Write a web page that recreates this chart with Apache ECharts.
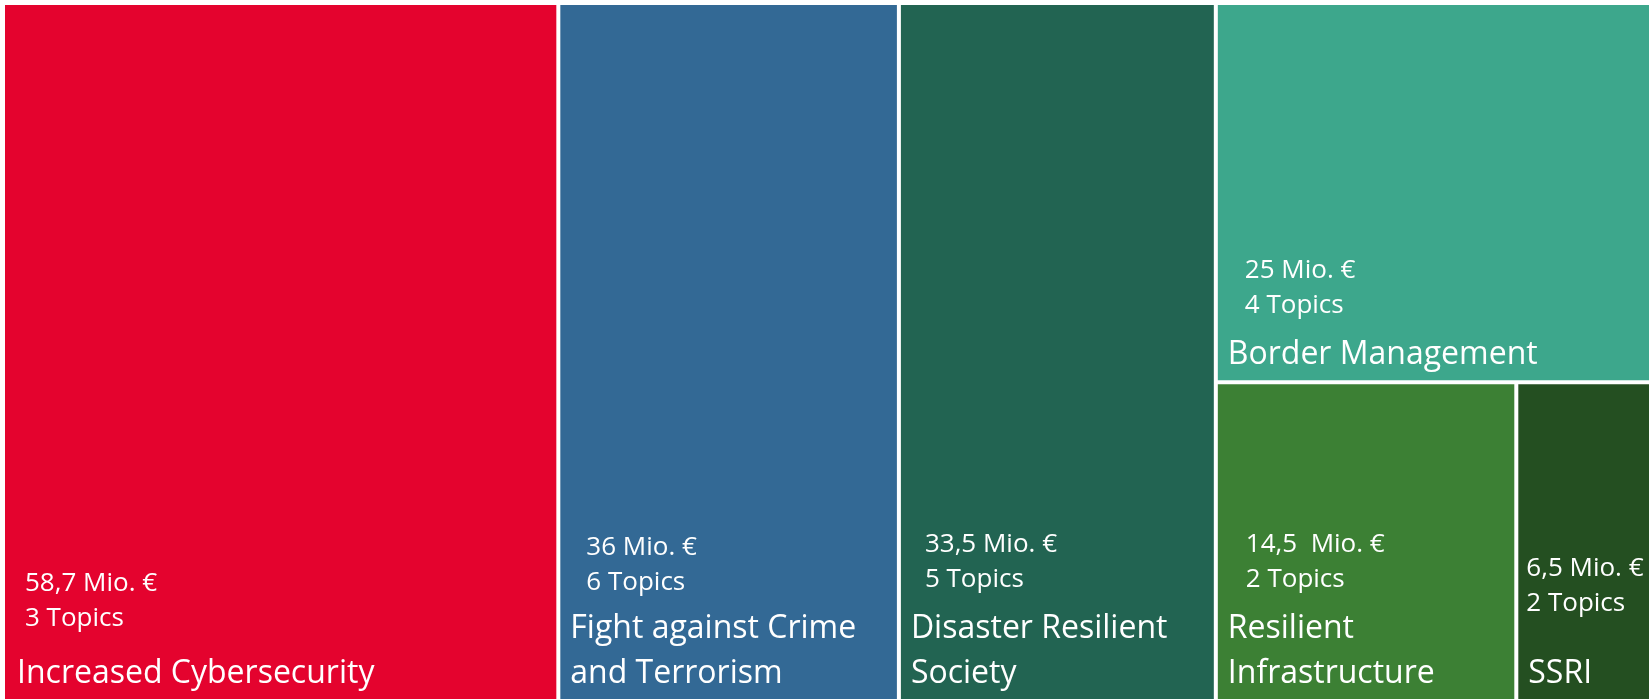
<!DOCTYPE html>
<html>
<head>
<meta charset="utf-8">
<script src="https://cdn.jsdelivr.net/npm/echarts@6/dist/echarts.min.js"></script>
<style>
html, body { margin: 0; padding: 0; background: #fff; }
#main { width: 1652px; height: 699px; }
</style>
</head>
<body>
<div id="main"></div>
<script>
// topic areas (the last three share the right hand column)
const names = ['Increased Cybersecurity', 'Fight against Crime\nand Terrorism', 'Disaster Resilient\nSociety',
  'Border Management', 'Resilient\nInfrastructure', 'SSRI']
const values = [58.7, 36, 33.5, 25, 14.5, 6.5]
const amounts = ['58,7 Mio. €', '36 Mio. €', '33,5 Mio. €', '25 Mio. €', '14,5  Mio. €', '6,5 Mio. €']
const topics = [3, 6, 5, 4, 2, 2]
const colors = ['#e4032e', '#336995', '#226452', '#3da78c', '#3c8034', '#244f21']

// small label tweaks (indent, gap above the name)
const nameIndent = [9, 7, 7, 7, 7, 7]
const amountIndent = [17, 23, 21, 24, 25, 5]
const amountGap = [15, 6, 9, 9, 9, 30]

const FONT = '"Open Sans", "Noto Sans", sans-serif'

function nameLeaf(i) {
  return {
    name: names[i],
    value: values[i],
    itemStyle: { color: colors[i], borderWidth: 2, borderColor: '#fff' },
    label: { padding: [0, 0, 0, nameIndent[i]] }
  }
}

function amountLeaf(i) {
  let nameLines = names[i].split('\n').length
  return {
    name: names[i],
    value: values[i],
    itemStyle: { color: 'rgba(0,0,0,0)', borderWidth: 2, borderColor: 'rgba(0,0,0,0)' },
    label: {
      formatter: amounts[i] + '\n' + topics[i] + ' Topics',
      padding: [0, 0, nameLines * 45 + amountGap[i], amountIndent[i]]
    }
  }
}

function buildTree(leaf) {
  return [
    leaf(0), leaf(1), leaf(2),
    { name: 'right', children: [leaf(3), { name: 'bottom', children: [leaf(4), leaf(5)] }] }
  ]
}

function baseSeries() {
  return {
    type: 'treemap',
    left: 3,
    top: 3,
    width: 1648,
    height: 698,
    sort: false,
    squareRatio: 0.3,
    roam: false,
    nodeClick: false,
    breadcrumb: { show: false },
    animation: false
  }
}

let myChart = echarts.init(document.getElementById('main'))
let s1 = baseSeries()
s1.itemStyle = { borderWidth: 0, gapWidth: 0, borderColor: '#fff' }
s1.label = {
  show: true,
  position: 'insideBottomLeft',
  distance: 3,
  color: '#fff',
  fontFamily: FONT,
  fontSize: 32,
  lineHeight: 45,
  overflow: 'none'
}
s1.data = buildTree(nameLeaf)

let s2 = baseSeries()
s2.silent = true
s2.itemStyle = { borderWidth: 0, gapWidth: 0, borderColor: 'rgba(0,0,0,0)', color: 'rgba(0,0,0,0)' }
s2.label = {
  show: true,
  position: 'insideBottomLeft',
  distance: 3,
  color: '#fff',
  fontFamily: FONT,
  fontSize: 26,
  lineHeight: 35,
  overflow: 'none'
}
s2.data = buildTree(amountLeaf)

myChart.setOption({
  backgroundColor: '#fff',
  series: [s1, s2]
})
</script>
</body>
</html>
